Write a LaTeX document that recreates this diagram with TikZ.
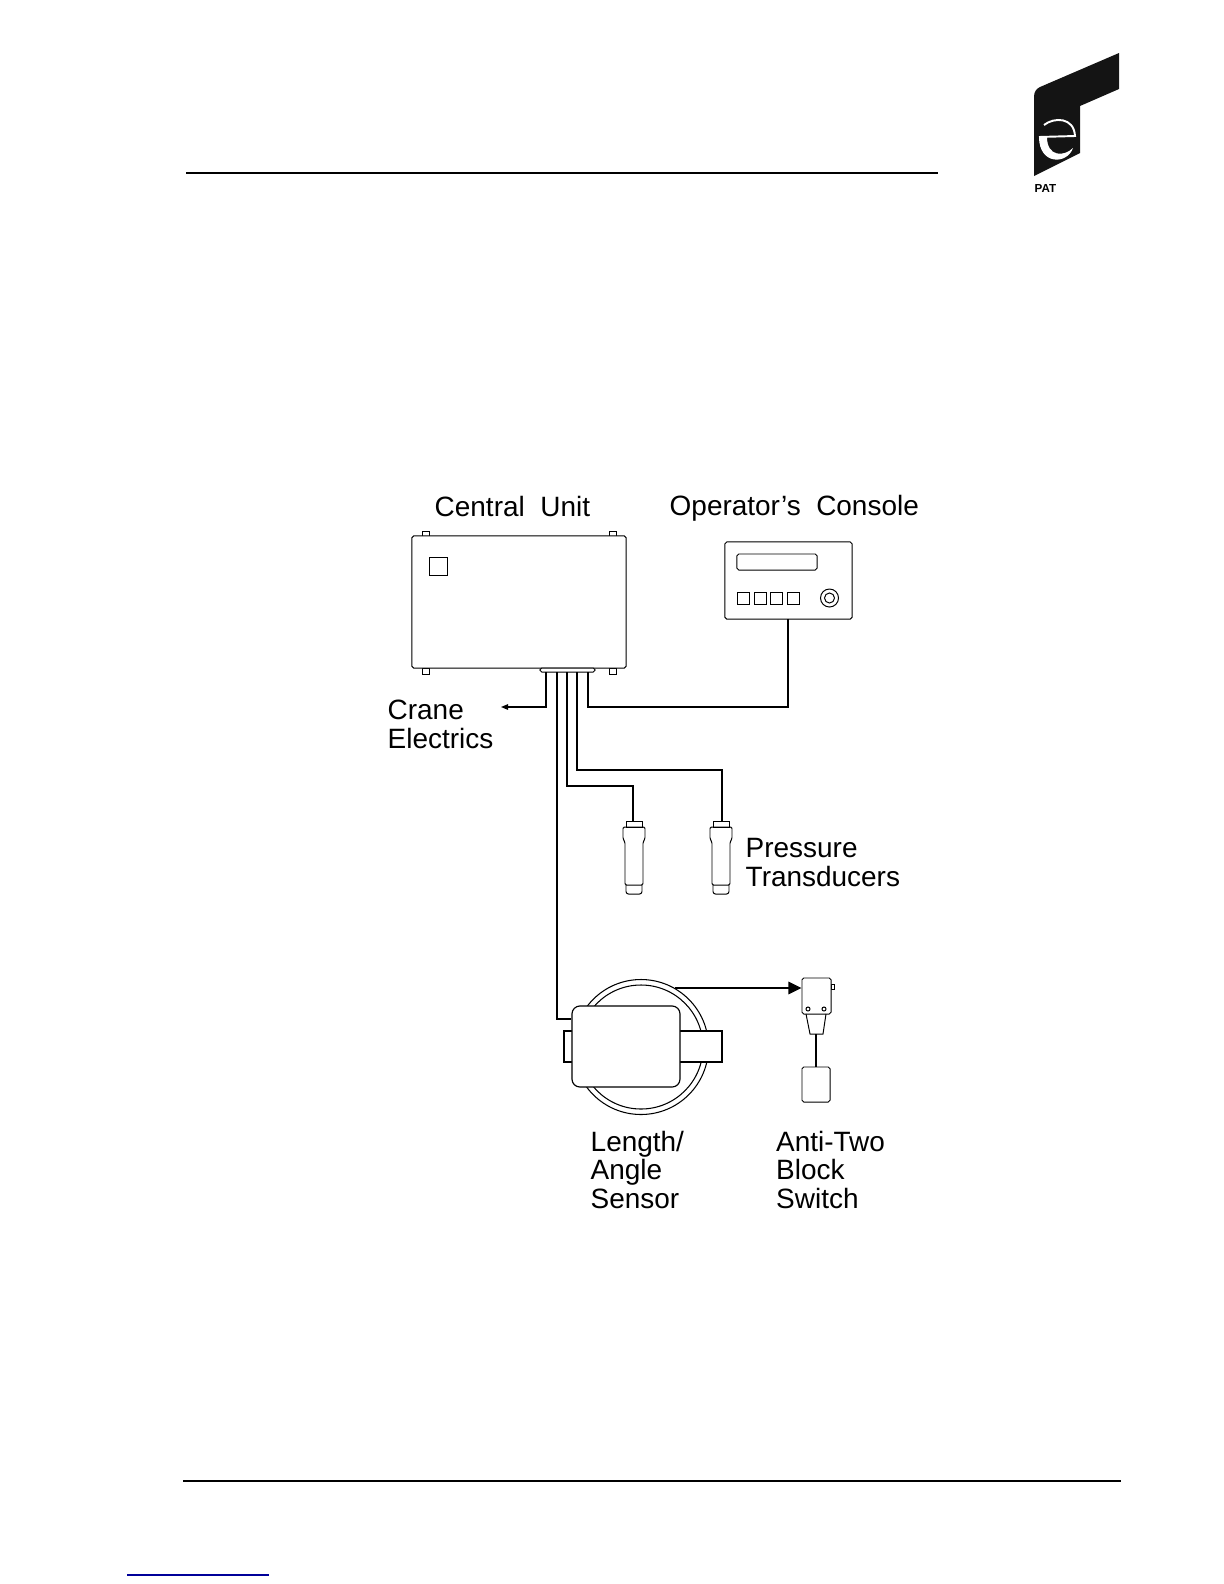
\documentclass[tikz,border=0pt]{standalone}
\usepackage{fontspec}
\setmainfont{Liberation Sans}
\usetikzlibrary{arrows.meta,calc}
\tikzset{
    part/.style={draw, line width=0.28pt, rounded corners=0.5pt, inner sep=0pt, fill=white},
    keycap/.style={part, rounded corners=0pt, minimum width=0.12cm, minimum height=0.125cm},
    wire/.style={line width=0.33pt},
    caption/.style={inner sep=0pt, align=left, anchor=base west, font=\fontsize{7.95}{7.97}\selectfont},
}
\begin{document}
\begin{tikzpicture}[x=0.01cm, y=-0.01cm, >=Stealth]
    \useasboundingbox (0,0) rectangle (1224,1584);

    % Header and footer rules
    \draw [line width=0.6pt] (186,173) -- (938,173);
    \draw [line width=0.4pt] (183,1481) -- (1121,1481);
    \draw [line width=0.35pt, color=blue!60!black] (127,1575) -- (269,1575);

    % Logo
    \fill [black!92] (1119,53) -- (1119,89) -- (1080,106) -- (1080,153) -- (1034,176) -- (1034,97)
        .. controls (1034,92) and (1036,89) .. (1040,87) -- cycle;
    \draw [white, line width=0.55pt] (1044,125) .. controls (1054,117) and (1074,117) .. (1075,136) -- (1039,137);
    \fill [white] (1039,137) .. controls (1039,165) and (1067,165) .. (1073,148)
        .. controls (1064,157) and (1047,157) .. (1047,137) -- cycle;
    \node (pat) [inner sep=0pt, anchor=base west, font=\fontsize{3.3}{4}\selectfont\bfseries] at (1034,192) {PAT};

    % Central unit
    \foreach \x in {422, 609} {
        \draw [line width=0.28pt] (\x,531) rectangle (\x+7,537);
        \draw [line width=0.28pt] (\x,668) rectangle (\x+7,674);
    }
    \node (central) [part, minimum width=2.14cm, minimum height=1.32cm] at (519,602) {};
    \node (lamp) [part, rounded corners=0pt, minimum width=0.18cm, minimum height=0.18cm] at (438,566) {};
    \node (plug) [part, minimum width=0.55cm, minimum height=0.04cm] at (567.5,670) {};
    \node (lblcentral) [caption] at (434,516) {Central\ \ Unit};

    % Operator's console
    \node (console) [part, minimum width=1.27cm, minimum height=0.77cm] at (788.5,580.5) {};
    \node (display) [part, minimum width=0.80cm, minimum height=0.16cm] at (777,562) {};
    \node (btna) [keycap] at (743,598.5) {};
    \node (btnb) [keycap] at (760,598.5) {};
    \node (btnc) [keycap] at (776.5,598.5) {};
    \node (btnd) [keycap] at (793.5,598.5) {};
    \node (knob) [part, circle, minimum size=0.18cm] at (829.5,598) {};
    \node (knobin) [part, circle, minimum size=0.10cm] at (829.5,598) {};
    \node (lblconsole) [caption] at (669,515) {Operator’s\ \ Console};

    % Wire ends
    \coordinate (crane) at (501,707);
    \coordinate (wirea) at (546,672);
    \coordinate (wireb) at (557,672);
    \coordinate (wirec) at (567,672);
    \coordinate (wired) at (577,672);
    \coordinate (wiree) at (588,672);

    % Wires from the central unit
    \draw [wire, -{Triangle[length=0.7mm, width=0.55mm]}] (wirea) -- (546,707) -- (crane);
    \draw [wire] (wiree) -- (588,707) -- (788,707) -- (788,619);
    \draw [wire] (wirec) -- (567,786) -- (633,786) -- (633,821);
    \draw [wire] (wired) -- (577,770) -- (722,770) -- (722,821);
    \node (lblcrane) [caption] at (387,748) {Crane\\Electrics};

    % Pressure transducers
    \foreach \c in {634, 721} {
        \draw [line width=0.28pt] (\c-8,821) rectangle (\c+8,827);
        \draw [line width=0.28pt, rounded corners=0.4pt] (\c-11,827) -- (\c+11,827) -- (\c+11,839) -- (\c+9,842)
            -- (\c+9,885) -- (\c-9,885) -- (\c-9,842) -- (\c-11,839) -- cycle;
        \draw [line width=0.28pt, rounded corners=0.7pt] (\c-8,885) -- (\c-8,894) -- (\c+8,894) -- (\c+8,885);
    }
    \node (lblpressure) [caption] at (745,886) {Pressure\\Transducers};

    % Length/angle sensor
    \draw [line width=0.3pt] (641,1047) circle (67.5);
    \draw [line width=0.3pt] (641,1047) circle (62);
    \draw [line width=0.3pt, fill=white] (564,1031) rectangle (722,1062);
    \node (sensor) [part, line width=0.33pt, rounded corners=0.8mm, minimum width=1.08cm, minimum height=0.81cm] at (626,1046.5) {};
    \draw [wire] (wireb) -- (557,1019) -- (sensor.west |- 0,1019);
    \node (lblsensor) [caption] at (590,1208) {Length/\\Angle\\Sensor};

    % Anti-two block switch
    \draw [line width=0.28pt] (831,984) rectangle (834,989);
    \node (switch) [part, minimum width=0.29cm, minimum height=0.36cm] at (816.5,996) {};
    \node (holea) [part, circle, minimum size=0.04cm] at (808,1009) {};
    \node (holeb) [part, circle, minimum size=0.04cm] at (824,1009) {};
    \draw [line width=0.28pt] (806,1014) -- (810,1034) -- (823,1034) -- (826,1014);
    \node (weight) [part, minimum width=0.28cm, minimum height=0.35cm] at (816,1084.5) {};
    \draw [wire] (weight.north |- 0,1034) -- (weight.north);
    \draw [wire, -{Triangle[length=1.3mm, width=1.25mm]}] (675,988) -- (switch.west |- 0,988);
    \node (lblswitch) [caption] at (775.5,1208) {Anti-Two\\Block\\Switch};
\end{tikzpicture}
\end{document}
